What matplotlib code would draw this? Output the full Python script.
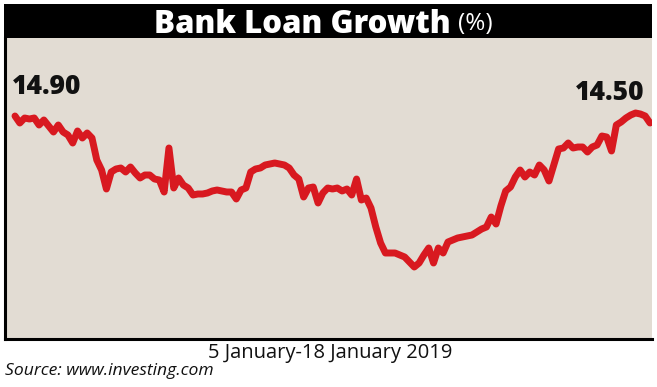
import matplotlib
matplotlib.use("Agg")
import matplotlib.pyplot as plt
import numpy as np
from matplotlib.patches import Rectangle

# ---- data ----
loan_growth = [
    14.90, 14.83, 14.88, 14.87, 14.88, 14.81, 14.86, 14.80, 14.74, 14.81,
    14.74, 14.71, 14.63, 14.75, 14.68, 14.73, 14.68, 14.46, 14.36, 14.17,
    14.34, 14.37, 14.38, 14.34, 14.39, 14.33, 14.28, 14.31, 14.31, 14.27,
    14.26, 14.14, 14.58, 14.18, 14.28, 14.21, 14.18, 14.11, 14.12, 14.12,
    14.13, 14.15, 14.16, 14.15, 14.14, 14.14, 14.07, 14.16, 14.18, 14.34,
    14.37, 14.38, 14.41, 14.42, 14.43, 14.42, 14.41, 14.38, 14.31, 14.27,
    14.09, 14.18, 14.19, 14.03, 14.13, 14.18, 14.17, 14.18, 14.15, 14.17,
    14.11, 14.27, 14.06, 14.08, 13.98, 13.79, 13.63, 13.53, 13.53, 13.53,
    13.51, 13.49, 13.44, 13.39, 13.43, 13.51, 13.58, 13.43, 13.58, 13.53,
    13.64, 13.66, 13.68, 13.69, 13.70, 13.71, 13.74, 13.77, 13.79, 13.89,
    13.82, 14.00, 14.15, 14.19, 14.29, 14.36, 14.29, 14.34, 14.31, 14.41,
    14.36, 14.25, 14.41, 14.57, 14.58, 14.63, 14.58, 14.59, 14.59, 14.54,
    14.59, 14.61, 14.70, 14.69, 14.55, 14.81, 14.84, 14.88, 14.91, 14.93,
    14.92, 14.90, 14.83,
]
title_main = "Bank Loan Growth"
title_unit = "(%)"
start_label = "14.90"
end_label = "14.50"
period_label = "5 January-18 January 2019"
source_label = "Source: www.investing.com"

# ---- figure ----
W, H = 657, 387
fig = plt.figure(figsize=(W / 100, H / 100), dpi=100)
fig.patch.set_facecolor("white")
FONT = "Open Sans"

def fx(px):
    return px / W

def fy(py):
    return 1 - py / H

beige = "#E2DCD3"
red = "#D81920"

# plot panel
ax = fig.add_axes([fx(5), fy(338.5), fx(652) - fx(5), fy(38) - fy(338.5)])
ax.set_facecolor(beige)
for s in ["top", "right"]:
    ax.spines[s].set_visible(False)
for s in ["left", "bottom"]:
    ax.spines[s].set_linewidth(2.2)
    ax.spines[s].set_color("black")
ax.set_xticks([])
ax.set_yticks([])

n = len(loan_growth)
x = np.arange(n)
ax.plot(x, loan_growth, color=red, lw=5.0, solid_joinstyle="round",
        solid_capstyle="round")

# x: first point at px 15, last at px 650 ; axes spans 5..652
x0p, x1p = 15, 650
scale = (n - 1) / (x1p - x0p)
ax.set_xlim(-(x0p - 5) * scale, (n - 1) + (652 - x1p) * scale)
# y: 14.90 at px 116, 0.01 per px; axes spans 38..338.5
ax.set_ylim(14.90 - (338.5 - 116) * 0.01, 14.90 + (116 - 38) * 0.01)

# title band
fig.patches.append(Rectangle((fx(4), fy(38)), fx(652) - fx(4), fy(4) - fy(38),
                             transform=fig.transFigure, facecolor="black",
                             edgecolor="none", zorder=5))
fig.text(fx(451), fy(21), title_main, color="white", fontsize=22.5,
         fontweight="heavy", family=FONT, ha="right", va="center_baseline",
         zorder=6)
fig.text(fx(458), fy(21), title_unit, color="white", fontsize=17.5,
         family=FONT, ha="left", va="center_baseline", zorder=6)

# end labels
fig.text(fx(12), fy(87), start_label, fontsize=19, fontweight="heavy",
         family=FONT, ha="left", va="center", color="#111111")
fig.text(fx(644), fy(93), end_label, fontsize=19, fontweight="heavy",
         family=FONT, ha="right", va="center", color="#111111")

# bottom texts
fig.text(fx(330), fy(353), period_label, fontsize=14.5, family=FONT,
         ha="center", va="center", color="#111111")
fig.text(fx(5), fy(371), source_label, fontsize=12.6, family=FONT,
         style="italic", ha="left", va="center", color="#111111")

fig.savefig("out.png", dpi=100, facecolor="white")
